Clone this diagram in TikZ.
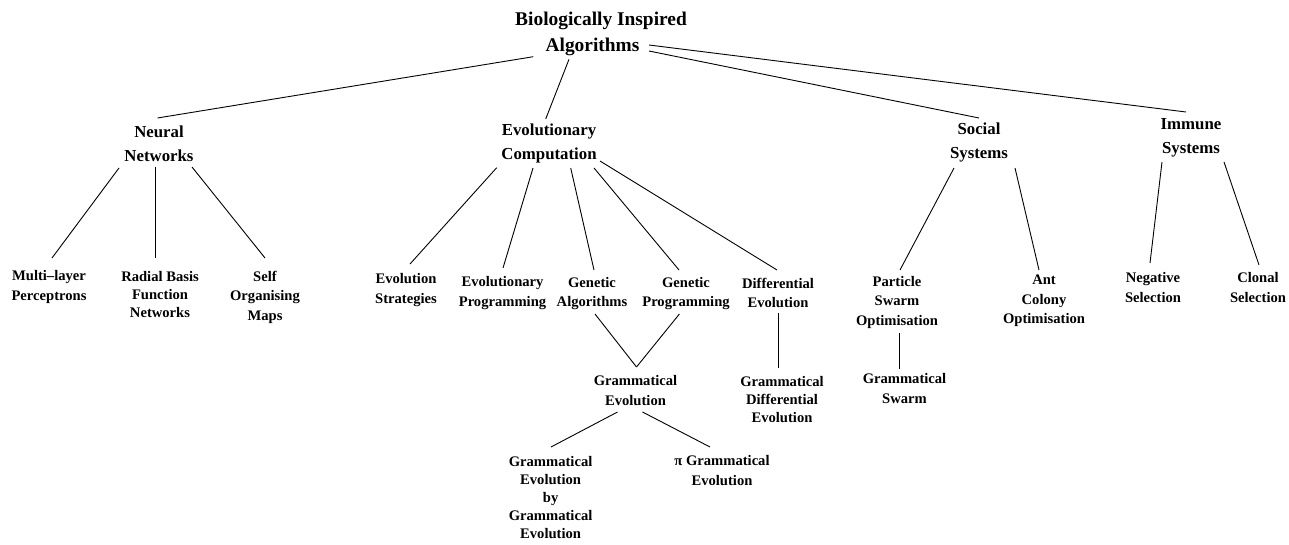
\documentclass[tikz,border=0pt]{standalone}
\usepackage{fontspec}
\setmainfont{Liberation Serif}
\begin{document}
\begin{tikzpicture}[x=1pt,y=-1pt,
  lv0/.style={align=center,inner sep=0pt,font=\fontsize{19.4}{26}\selectfont\bfseries},
  lv1/.style={align=center,inner sep=0pt,font=\fontsize{16.8}{23.5}\selectfont\bfseries},
  lv2/.style={align=center,inner sep=0pt,font=\fontsize{14.6}{19.5}\selectfont\bfseries},
  lv2t/.style={align=center,inner sep=0pt,font=\fontsize{14.6}{18}\selectfont\bfseries},
  link/.style={line width=0.9pt,black}]
\useasboundingbox (0,0) rectangle (1289,545);
% nodes
\node[lv0] (root) at (597,34) {\hspace*{8pt}Biologically Inspired\\Algorithms\hspace*{9pt}};
\node[lv1] (nn) at (159,144) {Neural\\Networks};
\node[lv1] (ec) at (549,143.5) {Evolutionary\\Computation};
\node[lv1] (ss) at (979,142.5) {Social\\Systems};
\node[lv1] (is) at (1191,138) {Immune\\Systems};
\node[lv2] (ml) at (49,287) {Multi–layer\\Perceptrons};
\node[lv2t] (rbf) at (160,294.5) {Radial Basis\\Function\\Networks};
\node[lv2] (som) at (265,297) {Self\\Organising\\Maps};
\node[lv2] (es) at (406,290) {Evolution\\Strategies};
\node[lv2] (ep) at (502.5,293) {Evolutionary\\Programming};
\node[lv2] (ga) at (592,293.5) {Genetic\\Algorithms};
\node[lv2] (gp) at (686,293.5) {Genetic\\Programming};
\node[lv2] (de) at (778,293) {Differential\\Evolution};
\node[lv2] (pso) at (897,302) {Particle\\Swarm\\Optimisation};
\node[lv2] (aco) at (1044,301) {Ant\\Colony\\Optimisation};
\node[lv2] (ns) at (1153,287.5) {Negative\\Selection};
\node[lv2] (cs) at (1258,287.5) {Clonal\\Selection};
\node[lv2] (ge) at (635.5,390.5) {Grammatical\\Evolution};
\node[lv2t] (gde) at (782,399.5) {Grammatical\\Differential\\Evolution};
\node[lv2] (gs) at (904.5,388.5) {Grammatical\\Swarm};
\node[lv2t] (gege) at (550.6,498) {Grammatical\\Evolution\\by\\Grammatical\\Evolution};
\node[lv2] (pge) at (722,470.5) {π Grammatical\\Evolution};
% connectors
\draw[link] ([shift={(-63.7,22.7)}]root.center) -- ([shift={(-1.5,-26)}]nn.center);
\draw[link] ([shift={(-28,25.3)}]root.center) -- ([shift={(-3.3,-24.5)}]ec.center);
\draw[link] ([shift={(52,17)}]root.center) -- ([shift={(0,-24.5)}]ss.center);
\draw[link] ([shift={(52,11)}]root.center) -- ([shift={(-5,-26)}]is.center);
\draw[link] ([shift={(-40,24)}]nn.center) -- ([shift={(3,-29)}]ml.center);
\draw[link] ([shift={(-3.5,23)}]nn.center) -- ([shift={(-4.5,-36.5)}]rbf.center);
\draw[link] ([shift={(33,23)}]nn.center) -- ([shift={(0,-39)}]som.center);
\draw[link] ([shift={(-52.3,24.2)}]ec.center) -- ([shift={(4,-26)}]es.center);
\draw[link] ([shift={(-16,24.5)}]ec.center) -- ([shift={(0.5,-25)}]ep.center);
\draw[link] ([shift={(21.7,24.5)}]ec.center) -- ([shift={(2,-23.5)}]ga.center);
\draw[link] ([shift={(45,24.5)}]ec.center) -- ([shift={(-7,-23.5)}]gp.center);
\draw[link] ([shift={(51,17.5)}]ec.center) -- ([shift={(-1,-23)}]de.center);
\draw[link] ([shift={(-25,25.5)}]ss.center) -- ([shift={(3,-32)}]pso.center);
\draw[link] ([shift={(36,25.5)}]ss.center) -- ([shift={(-5,-31)}]aco.center);
\draw[link] ([shift={(-29,24)}]is.center) -- ([shift={(-3,-24.5)}]ns.center);
\draw[link] ([shift={(33,24)}]is.center) -- ([shift={(1,-22.5)}]cs.center);
\draw[link] ([shift={(3,20.5)}]ga.center) -- ([shift={(1,-23.5)}]ge.center);
\draw[link] ([shift={(-6.6,20.5)}]gp.center) -- ([shift={(1,-23.5)}]ge.center);
\draw[link] ([shift={(0,20)}]de.center) -- ([shift={(-4,-31.5)}]gde.center);
\draw[link] ([shift={(2.5,31)}]pso.center) -- ([shift={(-5,-19.5)}]gs.center);
\draw[link] ([shift={(-18,21.5)}]ge.center) -- ([shift={(0.4,-51)}]gege.center);
\draw[link] ([shift={(7,21.5)}]ge.center) -- ([shift={(-12,-23.5)}]pge.center);
\end{tikzpicture}
\end{document}
